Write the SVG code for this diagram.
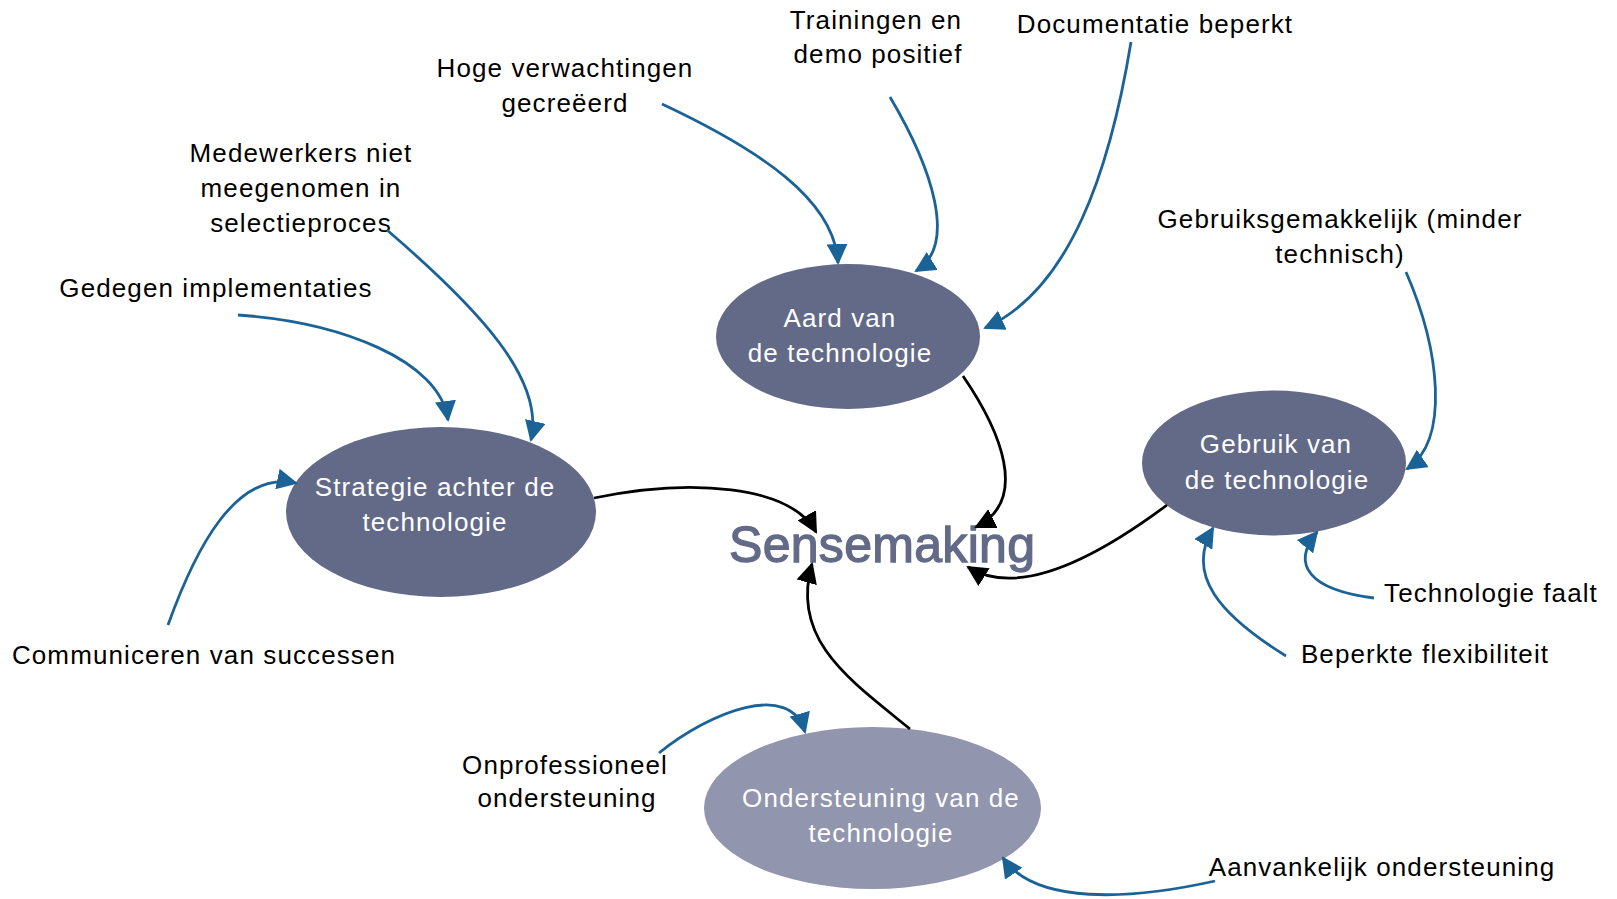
<svg xmlns="http://www.w3.org/2000/svg" width="1617" height="899" viewBox="0 0 1617 899">
  <style>
    .lbl { font-family: "Liberation Sans", Arial, sans-serif; font-size: 26px; letter-spacing: 1.1px; fill: #000; text-anchor: middle; }
    .ntx { font-family: "Liberation Sans", Arial, sans-serif; font-size: 26px; letter-spacing: 1.1px; fill: #fff; text-anchor: middle; }
    .node { fill: #636a87; }
    .node.light { fill: #9195ad; }
    .blue { fill: none; stroke: #1b6396; stroke-width: 2.8; marker-end: url(#ab); }
    .black { fill: none; stroke: #000; stroke-width: 2.8; marker-end: url(#ak); }
    .title { font-family: "Liberation Sans", Arial, sans-serif; font-size: 50px; letter-spacing: 0.3px; fill: #636a87; stroke: #636a87; stroke-width: 1.3; }
  </style>
  <defs>
    <marker id="ab" markerUnits="userSpaceOnUse" markerWidth="21" markerHeight="21" viewBox="0 0 21 21" refX="19" refY="10.5" orient="auto">
      <path d="M0,0 L21,10.5 L0,21 z" fill="#1b6396"/>
    </marker>
    <marker id="ak" markerUnits="userSpaceOnUse" markerWidth="21" markerHeight="21" viewBox="0 0 21 21" refX="19" refY="10.5" orient="auto">
      <path d="M0,0 L21,10.5 L0,21 z" fill="#000"/>
    </marker>
  </defs>
  <rect width="1617" height="899" fill="#fff"/>

  <!-- central concept -->
  <text id="sensemaking" class="title" x="729" y="562">Sensemaking</text>

  <!-- main nodes -->
  <g id="node-aard">
    <ellipse class="node" cx="848" cy="336.5" rx="132" ry="72.5"/>
    <text class="ntx" x="840" y="327">Aard van</text>
    <text class="ntx" x="840" y="362">de technologie</text>
  </g>
  <g id="node-strategie">
    <ellipse class="node" cx="441" cy="512" rx="155" ry="85"/>
    <text class="ntx" x="435" y="496">Strategie achter de</text>
    <text class="ntx" x="435" y="531">technologie</text>
  </g>
  <g id="node-gebruik">
    <ellipse class="node" cx="1274" cy="463" rx="132" ry="72.5"/>
    <text class="ntx" x="1276" y="453">Gebruik van</text>
    <text class="ntx" x="1277" y="489">de technologie</text>
  </g>
  <g id="node-ondersteuning">
    <ellipse class="node light" cx="872.5" cy="808" rx="168.5" ry="81"/>
    <text class="ntx" x="881" y="807">Ondersteuning van de</text>
    <text class="ntx" x="881" y="842">technologie</text>
  </g>

  <!-- factor labels -->
  <g id="lbl-trainingen">
    <text class="lbl" x="876" y="29">Trainingen en</text>
    <text class="lbl" x="878" y="63">demo positief</text>
  </g>
  <g id="lbl-documentatie">
    <text class="lbl" x="1155" y="33">Documentatie beperkt</text>
  </g>
  <g id="lbl-hoge">
    <text class="lbl" x="565" y="77">Hoge verwachtingen</text>
    <text class="lbl" x="565" y="112">gecreëerd</text>
  </g>
  <g id="lbl-medewerkers">
    <text class="lbl" x="301" y="162">Medewerkers niet</text>
    <text class="lbl" x="301" y="197">meegenomen in</text>
    <text class="lbl" x="301" y="232">selectieproces</text>
  </g>
  <g id="lbl-gedegen">
    <text class="lbl" x="216" y="297">Gedegen implementaties</text>
  </g>
  <g id="lbl-gebruiksgemak">
    <text class="lbl" x="1340" y="228">Gebruiksgemakkelijk (minder</text>
    <text class="lbl" x="1340" y="263">technisch)</text>
  </g>
  <g id="lbl-faalt">
    <text class="lbl" x="1491" y="602">Technologie faalt</text>
  </g>
  <g id="lbl-flexibiliteit">
    <text class="lbl" x="1425" y="663">Beperkte flexibiliteit</text>
  </g>
  <g id="lbl-communiceren">
    <text class="lbl" x="204" y="664">Communiceren van successen</text>
  </g>
  <g id="lbl-onprofessioneel">
    <text class="lbl" x="565" y="774">Onprofessioneel</text>
    <text class="lbl" x="567" y="807">ondersteuning</text>
  </g>
  <g id="lbl-aanvankelijk">
    <text class="lbl" x="1382" y="876">Aanvankelijk ondersteuning</text>
  </g>

  <!-- connectors -->
  <g id="connectors">
    <path class="blue" d="M238,315 C340,322 440,360 448,420"/>
    <path class="blue" d="M387,230 C480,310 545,380 531,440"/>
    <path class="blue" d="M662,104 C760,150 835,200 838,263"/>
    <path class="blue" d="M890,97 C932,168 958,245 916,271"/>
    <path class="blue" d="M1131,42 C1110,170 1070,290 985,328"/>
    <path class="blue" d="M1406,272 C1440,350 1450,440 1407,469"/>
    <path class="blue" d="M1374,598 C1310,590 1290,565 1317,532"/>
    <path class="blue" d="M1286,656 C1220,615 1185,575 1213,528"/>
    <path class="blue" d="M168,625 C195,550 235,470 296,483"/>
    <path class="blue" d="M1215,881 C1130,900 1035,905 1003,858"/>
    <path class="blue" d="M659,753 C710,712 790,680 805,732"/>

    <path class="black" d="M594,498 C690,478 790,485 816,532"/>
    <path class="black" d="M963,376 C1000,430 1030,500 976,527"/>
    <path class="black" d="M1167,505 C1100,555 1020,600 968,567"/>
    <path class="black" d="M910,729 C850,680 790,640 812,564"/>
  </g>
</svg>
